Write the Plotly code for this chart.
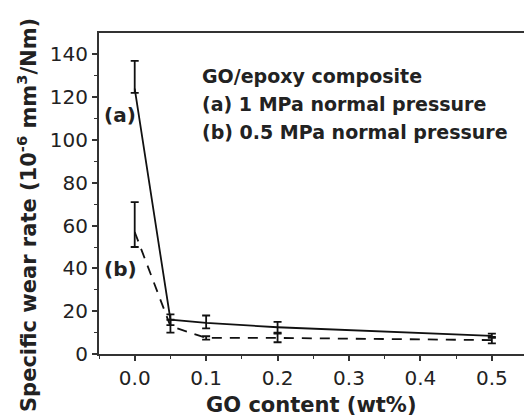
import plotly.graph_objects as go

go_content = [0.0, 0.05, 0.1, 0.2, 0.5]
rate_a = [124, 16, 14.5, 12.5, 8.5]
err_a_plus = [13, 2.5, 3.5, 2.5, 1]
err_a_minus = [2, 2.5, 2.5, 2.5, 1]
rate_b = [57, 13, 7.5, 7.5, 6.5]
err_b_plus = [14, 3, 0.8, 2, 1.5]
err_b_minus = [7, 3, 0.8, 2, 1.5]

x_ticks = [0.0, 0.1, 0.2, 0.3, 0.4, 0.5]
x_ticktext = ["0.0", "0.1", "0.2", "0.3", "0.4", "0.5"]
y_ticks = [0, 20, 40, 60, 80, 100, 120, 140]

FONT = "DejaVu Sans"
fig = go.Figure()
fig.add_trace(go.Scatter(
    x=go_content, y=rate_a, mode="lines",
    line=dict(color="#111", width=1.8),
    error_y=dict(type="data", array=err_a_plus, arrayminus=err_a_minus,
                 color="#111", thickness=1.8, width=4),
    showlegend=False))
fig.add_trace(go.Scatter(
    x=go_content, y=rate_b, mode="lines",
    line=dict(color="#111", width=1.8, dash="10px,8px"),
    error_y=dict(type="data", array=err_b_plus, arrayminus=err_b_minus,
                 color="#111", thickness=1.8, width=4),
    showlegend=False))

fig.update_layout(
    width=524, height=418, autosize=False,
    margin=dict(l=99, r=0, t=33, b=64, pad=0),
    paper_bgcolor="white", plot_bgcolor="white",
    font=dict(family=FONT, color="#222", size=18),
    xaxis=dict(range=[-0.05, 0.545], tickvals=x_ticks, ticktext=x_ticktext,
               showgrid=False, zeroline=False, showline=True, linecolor="#333",
               linewidth=2, mirror=True, ticks="outside", ticklen=5, tickwidth=1.5,
               tickcolor="#333", automargin=False,
               minor=dict(tickvals=[-0.05, 0.05, 0.15, 0.25, 0.35, 0.45], ticks="outside",
                          ticklen=3, tickwidth=1, tickcolor="#333"),
               tickfont=dict(family=FONT, size=20, color="#222")),
    yaxis=dict(range=[0, 150], tickvals=y_ticks, automargin=False,
               showgrid=False, zeroline=False, showline=True, linecolor="#333",
               linewidth=2, mirror=False, ticks="outside", ticklen=5, tickwidth=1.5,
               tickcolor="#333",
               minor=dict(tickvals=[10, 30, 50, 70, 90, 110, 130], ticks="outside",
                          ticklen=3, tickwidth=1, tickcolor="#333"),
               tickfont=dict(family=FONT, size=20, color="#222")),
)
fig.update_xaxes(tickprefix="<b>", ticksuffix="</b>")
fig.update_yaxes(tickprefix="<b>", ticksuffix="</b>")

W, H = 524.0, 418.0
L, R, T, B = 99.0, 0.0, 33.0, 64.0

def paper_x(px):
    return (px - L) / (W - L - R)

def paper_y(py):
    return (H - B - py) / (H - T - B)

# axis titles as annotations (pixel placement)
fig.add_annotation(x=paper_x(311), y=paper_y(405), xref="paper", yref="paper",
                   text="<b>GO content (wt%)</b>", showarrow=False,
                   xanchor="center", yanchor="middle",
                   font=dict(family=FONT, size=21, color="#222"))
fig.add_annotation(x=paper_x(27), y=paper_y(215), xref="paper", yref="paper",
                   text="<b>Specific wear rate (10<sup>-6</sup> mm<sup>3</sup>/Nm)</b>",
                   showarrow=False, textangle=-90, xanchor="center", yanchor="middle",
                   font=dict(family=FONT, size=21, color="#222"))

for txt, ypix in [("GO/epoxy composite", 76), ("(a) 1 MPa normal pressure", 104),
                  ("(b) 0.5 MPa normal pressure", 132)]:
    fig.add_annotation(x=paper_x(200), y=paper_y(ypix), xref="paper", yref="paper",
                       text="<b>" + txt + "</b>",
                       showarrow=False, xanchor="left", yanchor="middle",
                       font=dict(family=FONT, size=19, color="#222"))
fig.add_annotation(x=paper_x(120), y=paper_y(115), xref="paper", yref="paper", text="<b>(a)</b>",
                   showarrow=False, xanchor="center", yanchor="middle",
                   font=dict(family=FONT, size=20, color="#222"))
fig.add_annotation(x=paper_x(120), y=paper_y(269), xref="paper", yref="paper", text="<b>(b)</b>",
                   showarrow=False, xanchor="center", yanchor="middle",
                   font=dict(family=FONT, size=20, color="#222"))

fig.write_html("out.html", config={"displayModeBar": False},
               post_script="document.body.style.margin='0';document.body.style.overflow='hidden';"
                           "document.documentElement.style.overflow='hidden';")
